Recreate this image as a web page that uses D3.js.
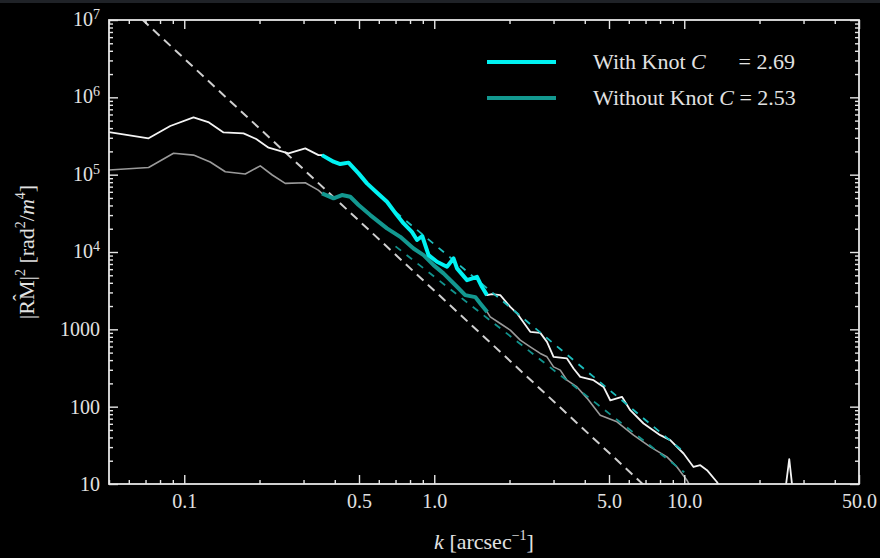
<!DOCTYPE html>
<html>
<head>
<meta charset="utf-8">
<script src="https://cdn.jsdelivr.net/npm/d3@7"></script>
<style>
  html, body { margin: 0; padding: 0; background: #000; }
  svg { display: block; }
  text { font-family: "Liberation Serif", "DejaVu Serif", serif; fill: #e2e2e2; }
</style>
</head>
<body>
<svg id="chart"></svg>
<script>
// spectrum with knot C (k in arcsec^-1, power in rad^2/m^4)
var withK = [0.05, 0.072, 0.0879, 0.1089, 0.1247, 0.1436, 0.1726, 0.194, 0.2174, 0.2613, 0.3048, 0.3444,
  0.3555, 0.3955, 0.4207, 0.4542, 0.498, 0.538, 0.586, 0.647, 0.709, 0.754, 0.814, 0.853, 0.895, 0.949,
  1.025, 1.124, 1.194, 1.233, 1.352, 1.482, 1.551, 1.625, 1.701, 1.837, 2.014, 2.142, 2.421, 2.655, 2.824,
  3.0, 3.395, 3.607, 3.837, 4.337, 4.755, 5.058, 5.634, 6.081, 6.874, 8.017, 8.79, 9.936, 10.89, 11.59,
  12.33, 13.51, 14.19, 18, 25.2, 26.3, 27.3, 35, 50];
var withP = [3.56e5, 2.95e5, 4.26e5, 5.51e5, 4.79e5, 3.52e5, 3.42e5, 2.89e5, 2.23e5, 1.89e5, 2.19e5, 1.79e5,
  1.79e5, 1.47e5, 1.37e5, 1.43e5, 1.04e5, 7.72e4, 5.96e4, 4.46e4, 3.0e4, 2.34e4, 1.82e4, 1.43e4, 1.61e4, 9120,
  7470, 6440, 8260, 6140, 4330, 4780, 3550, 2770, 2850, 2770, 1950, 1610, 929, 900, 689,
  441, 421, 312, 243, 220, 180, 121, 134, 90.1, 60.6, 42.8, 36.9, 24.8, 16.6, 17.5,
  15.1, 10.6, 8.3, 5, 7, 21, 7, 4, 3];

// spectrum without knot C
var withoutK = [0.05, 0.072, 0.0906, 0.1089, 0.127, 0.1459, 0.1754, 0.2014, 0.2249, 0.2535, 0.3048, 0.3436,
  0.3555, 0.3955, 0.4273, 0.4613, 0.498, 0.5546, 0.647, 0.7311, 0.8264, 0.906, 0.9936, 1.089, 1.233, 1.33,
  1.459, 1.528, 1.629, 1.675, 1.837, 2.014, 2.208, 2.421, 2.655, 2.824, 3.0, 3.192, 3.395, 3.722, 4.081,
  4.613, 5.381, 6.268, 7.311, 8.527, 9.35, 10.25, 10.76, 15, 50];
var withoutP = [1.15e5, 1.24e5, 1.89e5, 1.79e5, 1.46e5, 1.09e5, 1.02e5, 1.30e5, 9.9e4, 7.72e4, 7.85e4, 6.32e4,
  5.73e4, 4.94e4, 5.45e4, 5.18e4, 4.05e4, 3.0e4, 2.02e4, 1.57e4, 1.11e4, 9120, 6770, 5290, 3550, 2770,
  2610, 2160, 1670, 1450, 1190, 977, 725, 594, 488, 441, 327, 297, 220, 180, 129,
  77.6, 63.6, 42.8, 30.2, 22.4, 16.6, 11.2, 8.3, 4, 2];

// power-law fits over the inertial range
var fitNames = ["With Knot C", "Without Knot C"];
var fitSlopes = [2.69, 2.53];
var fitAmps = [12600, 4800];
var fitRange = [0.7, 10];
var thickRange = [0.355, 1.63];

// reference slope line
var refSlope = 3;
var refAmp = 3170;
var refRange = [0.05, 50];

var xMajor = [0.1, 0.5, 1, 5, 10, 50];
var xLabels = ["0.1", "0.5", "1.0", "5.0", "10.0", "50.0"];
var yMajor = [10, 100, 1000, 1e4, 1e5, 1e6, 1e7];

var width = 880, height = 558;
var plotLeft = 109, plotRight = 859, plotTop = 20, plotBottom = 484;

var svg = d3.select("#chart").attr("width", width).attr("height", height);
svg.append("rect").attr("width", width).attr("height", height).attr("fill", "#000");
svg.append("rect").attr("width", width).attr("height", 3).attr("fill", "#1f2227");

var x = d3.scaleLog().domain([0.05, 50]).range([plotLeft, plotRight]);
var y = d3.scaleLog().domain([10, 1e7]).range([plotBottom, plotTop]);

var xMinor = x.ticks().filter(function(d) {
    return xMajor.every(function(m) { return Math.abs(m - d) / m > 1e-6; });
});
var yMinor = y.ticks().filter(function(d) {
    return yMajor.every(function(m) { return Math.abs(m - d) / m > 1e-6; });
});

svg.append("clipPath").attr("id", "plot")
    .append("rect").attr("x", plotLeft).attr("y", plotTop)
    .attr("width", plotRight - plotLeft).attr("height", plotBottom - plotTop);

var line = d3.line()
    .x(function(d) { return x(d[0]); })
    .y(function(d) { return y(d[1]); });

function zip(ks, ps) {
    return ks.map(function(k, i) { return [k, ps[i]]; });
}
function powerLaw(amp, slope, range) {
    return range.map(function(k) { return [k, amp * Math.pow(k, -slope)]; });
}

var withData = zip(withK, withP);
var withoutData = zip(withoutK, withoutP);
var inThick = function(d) { return d[0] >= thickRange[0] && d[0] <= thickRange[1]; };

var plot = svg.append("g").attr("clip-path", "url(#plot)");

plot.append("path")
    .attr("d", line(powerLaw(refAmp, refSlope, refRange)))
    .attr("fill", "none").attr("stroke", "#cfcfcf").attr("stroke-width", 2)
    .attr("stroke-dasharray", "9,6");

plot.append("path").attr("d", line(withoutData))
    .attr("fill", "none").attr("stroke", "#9a9a9a").attr("stroke-width", 1.6)
    .attr("stroke-linejoin", "round");
plot.append("path").attr("d", line(withData))
    .attr("fill", "none").attr("stroke", "#f4f4f4").attr("stroke-width", 1.8)
    .attr("stroke-linejoin", "round");

var fitColors = ["#1cbcbc", "#11928c"];
fitSlopes.forEach(function(s, i) {
    plot.append("path")
        .attr("d", line(powerLaw(fitAmps[i], s, fitRange)))
        .attr("fill", "none").attr("stroke", fitColors[i]).attr("stroke-width", 1.8)
        .attr("stroke-dasharray", "7,7");
});

var thickColors = ["#00f2f2", "#139890"];
plot.append("path").attr("d", line(withoutData.filter(inThick)))
    .attr("fill", "none").attr("stroke", thickColors[1]).attr("stroke-width", 4)
    .attr("stroke-linejoin", "round");
plot.append("path").attr("d", line(withData.filter(inThick)))
    .attr("fill", "none").attr("stroke", thickColors[0]).attr("stroke-width", 4)
    .attr("stroke-linejoin", "round");

// axes, ticks pointing inward
function styleAxis(g) {
    g.attr("color", "#e6e6e6").attr("font-family", null).attr("font-size", null);
    g.select(".domain").remove();
    g.selectAll(".tick line").attr("stroke-width", 1.4);
}

svg.append("g").attr("transform", "translate(0," + plotBottom + ")")
    .call(d3.axisBottom(x).tickValues(xMinor).tickSize(-4).tickFormat("")).call(styleAxis);
svg.append("g").attr("transform", "translate(0," + plotBottom + ")")
    .call(d3.axisBottom(x).tickValues(xMajor).tickSize(-9).tickPadding(10)
        .tickFormat(function(d, i) { return xLabels[i]; }))
    .call(styleAxis)
    .selectAll("text").attr("font-size", "20px");
svg.append("g").attr("transform", "translate(0," + plotTop + ")")
    .call(d3.axisTop(x).tickValues(xMinor).tickSize(-4).tickFormat("")).call(styleAxis);
svg.append("g").attr("transform", "translate(0," + plotTop + ")")
    .call(d3.axisTop(x).tickValues(xMajor).tickSize(-9).tickFormat("")).call(styleAxis);

svg.append("g").attr("transform", "translate(" + plotLeft + ",0)")
    .call(d3.axisLeft(y).tickValues(yMinor).tickSize(-4).tickFormat("")).call(styleAxis);
var gLeft = svg.append("g").attr("transform", "translate(" + plotLeft + ",0)")
    .call(d3.axisLeft(y).tickValues(yMajor).tickSize(-9).tickPadding(9).tickFormat(""))
    .call(styleAxis);
svg.append("g").attr("transform", "translate(" + plotRight + ",0)")
    .call(d3.axisRight(y).tickValues(yMinor).tickSize(-4).tickFormat("")).call(styleAxis);
svg.append("g").attr("transform", "translate(" + plotRight + ",0)")
    .call(d3.axisRight(y).tickValues(yMajor).tickSize(-9).tickFormat("")).call(styleAxis);

gLeft.selectAll(".tick text").attr("font-size", "20px").each(function(d) {
    var t = d3.select(this);
    if (d >= 1e4) {
        t.append("tspan").attr("dy", "0.27em").text("10");
        t.append("tspan").attr("dy", "-0.5em").attr("font-size", "14px").text(Math.round(Math.log10(d)));
    } else {
        t.text(d);
    }
});

svg.append("rect")
    .attr("x", plotLeft).attr("y", plotTop)
    .attr("width", plotRight - plotLeft).attr("height", plotBottom - plotTop)
    .attr("fill", "none").attr("stroke", "#e6e6e6").attr("stroke-width", 1.8);

// axis titles
var xt = svg.append("text").attr("x", (plotLeft + plotRight) / 2).attr("y", 549)
    .attr("text-anchor", "middle").attr("font-size", "22px");
xt.append("tspan").attr("font-style", "italic").text("k");
xt.append("tspan").text(" [arcsec");
xt.append("tspan").attr("dy", -9).attr("font-size", "14px").text("\u22121");
xt.append("tspan").attr("dy", 9).text("]");

var yg = svg.append("g").attr("transform", "translate(34,252) rotate(-90)");
var yt = yg.append("text").attr("text-anchor", "middle").attr("font-size", "22px");
yt.append("tspan").text("|RM|");
yt.append("tspan").attr("dy", -9).attr("font-size", "14px").text("2");
yt.append("tspan").attr("dy", 9).text(" [rad");
yt.append("tspan").attr("dy", -9).attr("font-size", "14px").text("2");
yt.append("tspan").attr("dy", 9).text("/");
yt.append("tspan").attr("font-style", "italic").text("m");
yt.append("tspan").attr("dy", -9).attr("font-size", "14px").text("4");
yt.append("tspan").attr("dy", 9).text("]");
var node = yt.node();
var hatX = (node.getStartPositionOfChar(1).x + node.getEndPositionOfChar(2).x) / 2;
yg.append("text").attr("x", hatX).attr("y", -6).attr("text-anchor", "middle")
    .attr("font-size", "20px").text("\u02c6");

// legend
var legendY = [62, 98];
fitNames.forEach(function(name, i) {
    svg.append("line")
        .attr("x1", 487).attr("x2", 556).attr("y1", legendY[i]).attr("y2", legendY[i])
        .attr("stroke", thickColors[i]).attr("stroke-width", 4);
    var t = svg.append("text").attr("x", 593).attr("y", legendY[i] + 7).attr("font-size", "22px");
    var base = name.slice(0, -1);
    t.append("tspan").text(base);
    t.append("tspan").attr("font-style", "italic").text("C");
    var eq = "= " + fitSlopes[i].toFixed(2);
    if (i === 0) {
        svg.append("text").attr("x", 795).attr("y", legendY[i] + 7).attr("text-anchor", "end")
            .attr("font-size", "22px").text(eq);
    } else {
        t.append("tspan").text(" " + eq);
    }
});
</script>
</body>
</html>
